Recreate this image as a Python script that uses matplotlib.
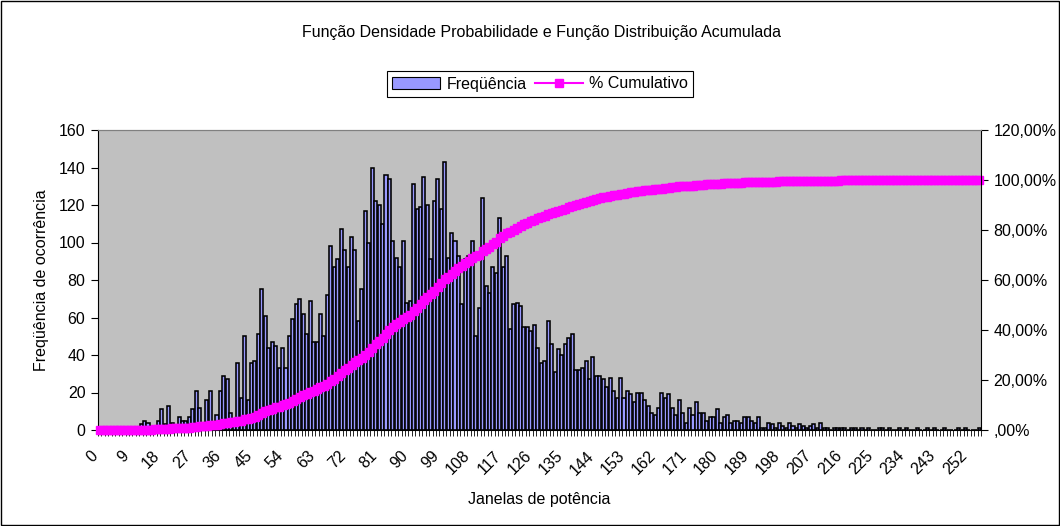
import matplotlib.pyplot as plt
from matplotlib.patches import Rectangle
from matplotlib.lines import Line2D
from matplotlib.patches import Patch
from matplotlib.transforms import ScaledTranslation
import numpy as np

plt.rcParams['font.family'] = ['Liberation Sans', 'DejaVu Sans']

# frequency per power window (0..255)
freq = [
    0, 0, 0, 0, 0, 0, 1, 0, 0, 1, 0, 1, 3, 5, 4, 1,
    2, 5, 11, 3, 13, 4, 2, 7, 5, 5, 7, 11, 21, 12, 4, 16,
    21, 3, 8, 21, 29, 27, 9, 3, 36, 17, 50, 16, 36, 37, 51, 75,
    61, 44, 47, 45, 33, 44, 33, 50, 59, 67, 70, 62, 51, 69, 47, 47,
    62, 50, 72, 98, 87, 91, 107, 96, 87, 103, 96, 58, 75, 117, 100, 140,
    122, 120, 110, 136, 134, 101, 92, 87, 101, 68, 69, 131, 118, 119, 135, 120,
    91, 122, 134, 118, 143, 92, 105, 101, 93, 67, 91, 93, 101, 50, 65, 124,
    77, 73, 87, 84, 113, 87, 93, 54, 67, 68, 66, 55, 55, 53, 56, 44,
    36, 37, 58, 46, 31, 43, 40, 46, 49, 51, 32, 32, 33, 37, 27, 39,
    29, 29, 27, 23, 28, 21, 17, 28, 17, 21, 19, 15, 20, 20, 16, 13,
    9, 8, 12, 20, 17, 19, 12, 8, 16, 9, 4, 12, 8, 15, 9, 9,
    5, 7, 7, 11, 4, 7, 8, 4, 5, 5, 4, 7, 7, 5, 4, 7,
    1, 1, 4, 3, 1, 4, 2, 1, 4, 2, 1, 3, 2, 1, 2, 3,
    1, 4, 1, 1, 0, 1, 1, 1, 1, 0, 1, 1, 0, 1, 0, 1,
    0, 0, 1, 1, 0, 1, 0, 0, 1, 0, 1, 0, 0, 1, 0, 0,
    1, 0, 1, 0, 0, 1, 0, 0, 0, 1, 0, 1, 0, 0, 0, 1,
]
windows = np.arange(len(freq))
tick_labels = [str(v) for v in range(0, 256, 9)]

cum_pct = np.cumsum(freq) / np.sum(freq) * 100

fs = 11.5

fig = plt.figure(figsize=(10.6, 5.26), dpi=100)
ax = fig.add_axes([98 / 1060, 1 - 430 / 526, 883 / 1060, 300 / 526])
ax.set_facecolor('#C0C0C0')

ax.bar(windows, freq, width=0.88, color='#9999FF', edgecolor='black', linewidth=1.15)
ax.set_xlim(-0.5, len(freq) - 0.5)
ax.set_ylim(0, 160)
ax.set_yticks(range(0, 161, 20))
ax.tick_params(axis='y', direction='out', length=5, labelsize=fs, pad=4)

ax.set_xticks(range(0, 256, 9))
ax.set_xticklabels(tick_labels, rotation=45, ha='right', va='top', rotation_mode='anchor')
ax.set_xticks(np.arange(-0.5, len(freq), 1), minor=True)
ax.tick_params(axis='x', which='major', length=0, labelsize=fs, pad=13)
ax.tick_params(axis='x', which='minor', length=4, width=0.6, direction='out')
shift = ScaledTranslation(-10 / 100, 0, fig.dpi_scale_trans)
for lbl in ax.get_xticklabels():
    lbl.set_transform(lbl.get_transform() + shift)

ax.spines['top'].set_color('#808080')
ax.spines['right'].set_visible(False)

ax.set_ylabel('Freqüência de ocorrência', fontsize=fs, labelpad=7)
ax.set_xlabel('Janelas de potência', fontsize=fs, labelpad=10)

ax2 = ax.twinx()
ax2.plot(windows, cum_pct, color='#FF00FF', marker='s', markersize=6,
         linewidth=2, clip_on=False)
ax2.set_ylim(0, 120)
ax2.set_yticks(range(0, 121, 20))
ax2.set_yticklabels([',00%'] + [f'{v},00%' for v in range(20, 121, 20)])
ax2.tick_params(axis='y', direction='out', length=5, labelsize=fs, pad=4)
ax2.spines['top'].set_color('#808080')
for s in ('left', 'bottom'):
    ax2.spines[s].set_visible(False)

fig.text(542 / 1060, 1 - 33 / 526, 'Função Densidade Probabilidade e Função Distribuição Acumulada',
         ha='center', va='center', fontsize=fs)

handles = [Patch(facecolor='#9999FF', edgecolor='black', linewidth=0.8),
           Line2D([], [], color='#FF00FF', marker='s', markersize=6, linewidth=1.5)]
leg = fig.legend(handles, ['Freqüência', '% Cumulativo'], ncol=2, loc='center',
                 bbox_to_anchor=(540 / 1060, 1 - 84 / 526), fontsize=fs,
                 frameon=True, fancybox=False, framealpha=1, edgecolor='black',
                 handlelength=3, columnspacing=0.5, handletextpad=0.4, borderpad=0.35)
leg.get_frame().set_linewidth(0.8)

fig.patches.append(Rectangle((0.001, 0.002), 0.998, 0.996, transform=fig.transFigure,
                             fill=False, edgecolor='black', linewidth=1))

fig.savefig('out.png', dpi=100)
